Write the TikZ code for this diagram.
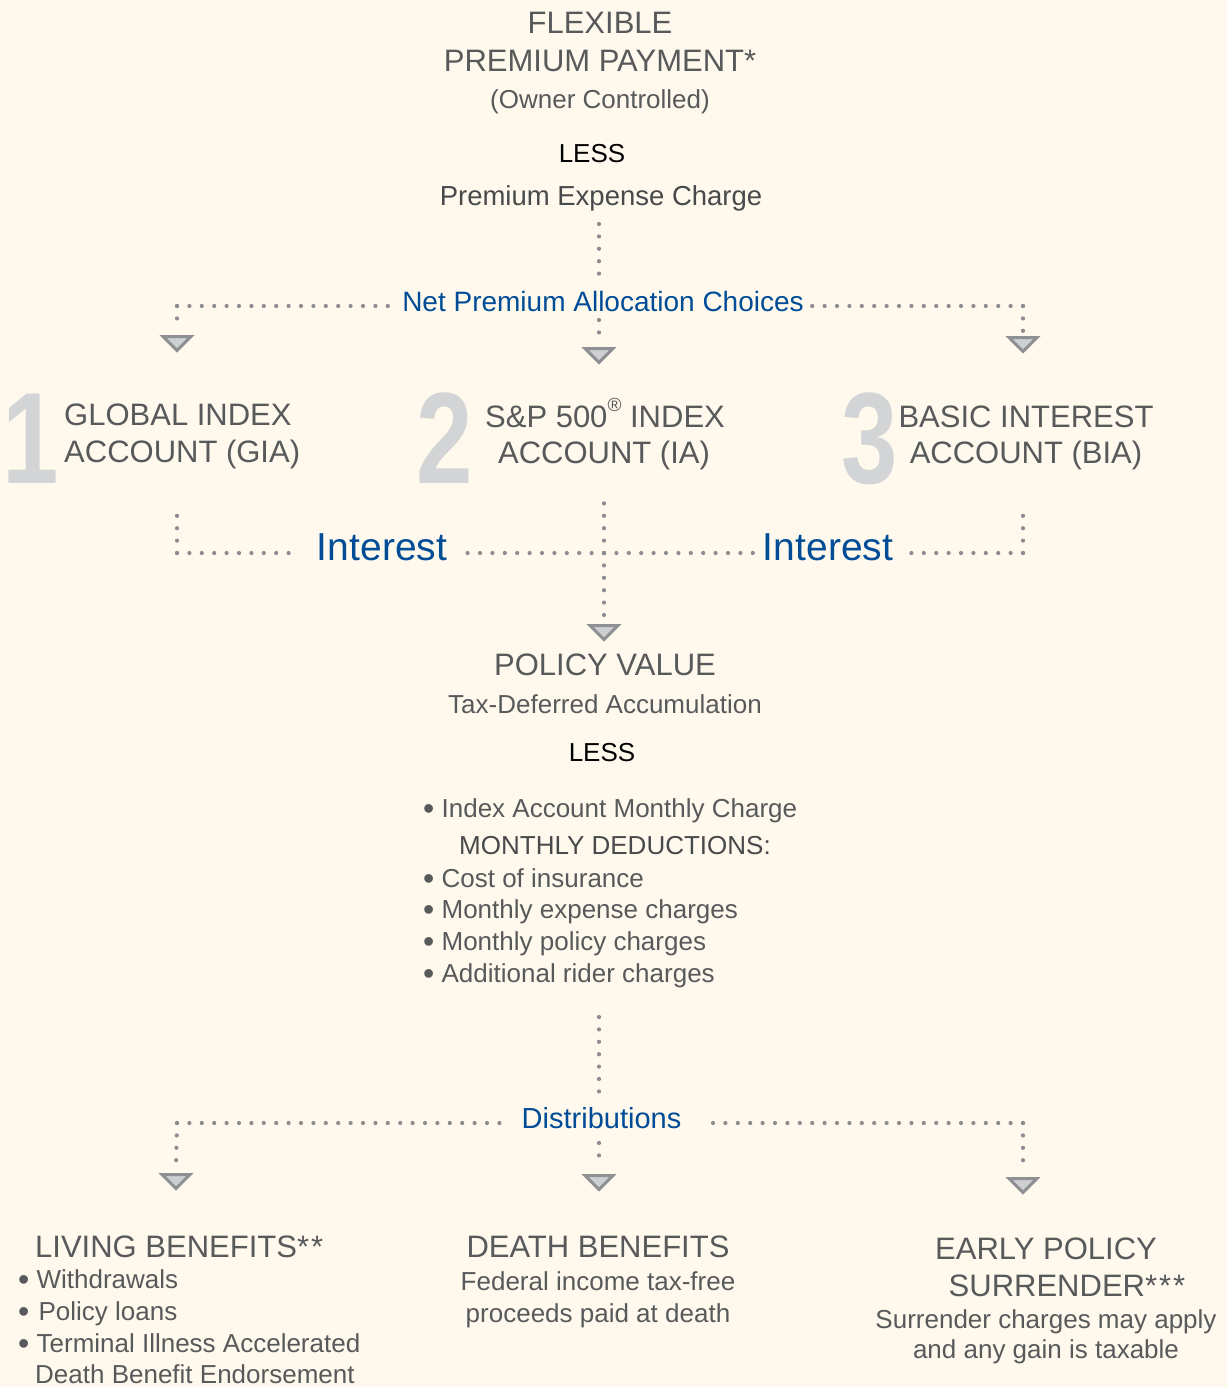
\documentclass[tikz,border=0pt]{standalone}
\usepackage{fontspec}
\setmainfont{Liberation Sans}
\newfontfamily\numfont[FakeStretch=0.78]{Liberation Sans Bold}
\usetikzlibrary{calc}
\definecolor{bg}{RGB}{254,249,236}
\definecolor{gtext}{RGB}{88,89,91}
\definecolor{dtext}{RGB}{72,73,75}
\definecolor{lblue}{RGB}{0,76,151}
\definecolor{dotc}{RGB}{140,141,144}
\definecolor{trif}{RGB}{206,207,209}
\definecolor{trie}{RGB}{143,144,147}
\definecolor{numc}{RGB}{210,212,214}
\newcommand\bul{\raisebox{-2.5pt}{\fontsize{32}{32}\selectfont •}}
\tikzset{
  txt/.style={text=gtext, inner sep=0pt, anchor=base},
  lft/.style={anchor=base west},
  tbig/.style={font=\fontsize{31}{37}\selectfont},
  tbody/.style={font=\fontsize{26}{31}\selectfont},
  lbl/.style={text=lblue, inner sep=0pt, anchor=base},
  num/.style={text=numc, inner sep=0pt, anchor=base, font=\numfont\fontsize{130}{130}\selectfont},
  dots/.style={draw=dotc, line width=4.2pt, line cap=round, dash pattern=on 0pt off 12.4pt},
  tri/.pic={\draw[draw=trie, fill=trif, line width=3pt, line join=miter] (-14,1.5) -- (14,1.5) -- (0,15.5) -- cycle;}
}
\begin{document}
\begin{tikzpicture}[x=1pt,y=-1pt]
\fill[bg] (0,0) rectangle (1227,1387);
\useasboundingbox (0,0) rectangle (1227,1387);

% ---- top block
\node[txt,tbig] (flex) at (600,33) {FLEXIBLE};
\node[txt,tbig] (ppay) at (600,71) {PREMIUM PAYMENT*};
\node[txt,tbody] (owner) at (600,108) {(Owner Controlled)};
\node[txt,tbody,text=black] (less1) at (592,162) {LESS};
\node[txt,font=\fontsize{27.5}{33}\selectfont,text=dtext] (pec) at (601,205) {Premium Expense Charge};
\node[lbl,font=\fontsize{28}{34}\selectfont] (npa) at (603,311) {Net Premium Allocation Choices};

% ---- arrow heads
\coordinate (a1) at (177,335);
\coordinate (a2) at (599,347);
\coordinate (a3) at (1023,336);
\coordinate (a4) at (604,624);
\coordinate (a5) at (599,1174);
\coordinate (a6) at (176,1173);
\coordinate (a7) at (1023,1177);
\foreach \a in {a1,a2,a3,a4,a5,a6,a7} {\pic at (\a) {tri};}

% ---- allocation connectors
\coordinate (v1) at (599,224);
\coordinate (h1) at (177,306);
\coordinate (h3) at (1023,306);
\draw[dots] (v1) -- ([yshift=5pt]npa.north -| v1);
\draw[dots] ([yshift=-9pt]npa.base -| v1) -- ([yshift=6pt]a2);
\draw[dots] (h1) -- ([xshift=-8pt]npa.west |- h1);
\draw[dots] (h1) -- ([yshift=5pt]a1);
\draw[dots] (h3) -- ([xshift=8pt]npa.east |- h3);
\draw[dots] (h3) -- ([yshift=5pt]a3);

% ---- accounts
\node[num] (n1) at (31,483) {1};
\node[num] (n2) at (445,483) {2};
\node[num] (n3) at (870,483) {3};
\node[txt,tbig,lft] (gia1) at (64,425) {GLOBAL INDEX};
\node[txt,tbig,lft] (gia2) at (64,462) {ACCOUNT (GIA)};
\node[txt,tbig] (ia1) at (605,427) {S\&P 500\raisebox{0.5em}{\fontsize{19}{19}\selectfont ®} INDEX};
\node[txt,tbig] (ia2) at (604,463) {ACCOUNT (IA)};
\node[txt,tbig] (bia1) at (1026,427) {BASIC INTEREST};
\node[txt,tbig] (bia2) at (1026,463) {ACCOUNT (BIA)};

% ---- interest
\node[lbl,font=\fontsize{39}{47}\selectfont] (int1) at (382,560) {Interest};
\node[lbl,font=\fontsize{39}{47}\selectfont] (int2) at (828,560) {Interest};
\coordinate (g1) at (177,505);
\coordinate (g2) at (177,553);
\coordinate (m) at (604,553);
\coordinate (mt) at (604,503);
\coordinate (b1) at (1023,505);
\coordinate (b2) at (1023,553);
\draw[dots] (g2) -- (g1);
\draw[dots] (g2) -- ([xshift=-18pt]int1.west |- g2);
\draw[dots] (m) -- ([xshift=19pt]int1.east |- m);
\draw[dots] (m) -- ([xshift=-9pt]int2.west |- m);
\draw[dots] (m) -- (mt);
\draw[dots] (m) -- ([yshift=7pt]a4);
\draw[dots] (b2) -- ([xshift=14pt]int2.east |- b2);
\draw[dots] (b2) -- (b1);

% ---- policy value
\node[txt,tbig] (pv) at (605,675) {POLICY VALUE};
\node[txt,tbody] (tda) at (605,713) {Tax-Deferred Accumulation};
\node[txt,tbody,text=black] (less2) at (602,761) {LESS};
\node[txt,tbody,lft] (d0) at (423,817) {\bul{} Index Account Monthly Charge};
\node[txt,tbody,text=dtext] (mdh) at (615,854) {MONTHLY DEDUCTIONS:};
\node[txt,tbody,lft] (d1) at (423,887) {\bul{} Cost of insurance};
\node[txt,tbody,lft] (d2) at (423,918) {\bul{} Monthly expense charges};
\node[txt,tbody,lft] (d3) at (423,950) {\bul{} Monthly policy charges};
\node[txt,tbody,lft] (d4) at (423,982) {\bul{} Additional rider charges};

% ---- distributions
\node[lbl,font=\fontsize{29}{35}\selectfont] (dist) at (601.5,1128) {Distributions};
\coordinate (v4) at (599,1017);
\coordinate (h5) at (177,1123);
\coordinate (h6) at (1023,1123);
\draw[dots] (v4) -- ([yshift=5pt]dist.north -| v4);
\draw[dots] ([yshift=-15pt]dist.base -| v4) -- ([yshift=7pt]a5);
\draw[dots] (h5) -- ([xshift=-20pt]dist.west |- h5);
\draw[dots] (h5) -- ([yshift=6pt]a6);
\draw[dots] (h6) -- ([xshift=20pt]dist.east |- h6);
\draw[dots] (h6) -- ([yshift=6pt]a7);

% ---- bottom blocks
\node[txt,tbig,lft] (lb) at (35,1257) {LIVING BENEFITS*\kern2pt*};
\node[txt,tbody,lft] (lb1) at (18,1288) {\bul{} Withdrawals};
\node[txt,tbody,lft] (lb2) at (18,1320) {\bul\kern2pt{} Policy loans};
\node[txt,tbody,lft] (lb3) at (18,1352) {\bul{} Terminal Illness Accelerated};
\node[txt,tbody,lft] (lb4) at (35,1383) {Death Benefit Endorsement};

\node[txt,tbig] (db) at (598,1257) {DEATH BENEFITS};
\node[txt,tbody] (db1) at (598,1290) {Federal income tax-free};
\node[txt,tbody] (db2) at (598,1322) {proceeds paid at death};

\node[txt,tbig] (es1) at (1046,1259) {EARLY POLICY};
\node[txt,tbig] (es2) at (1067,1296) {SURRENDER*\kern2pt*\kern2pt*};
\node[txt,tbody] (es3) at (1046,1328) {Surrender charges may apply};
\node[txt,tbody] (es4) at (1046,1358) {and any gain is taxable};
\end{tikzpicture}
\end{document}
